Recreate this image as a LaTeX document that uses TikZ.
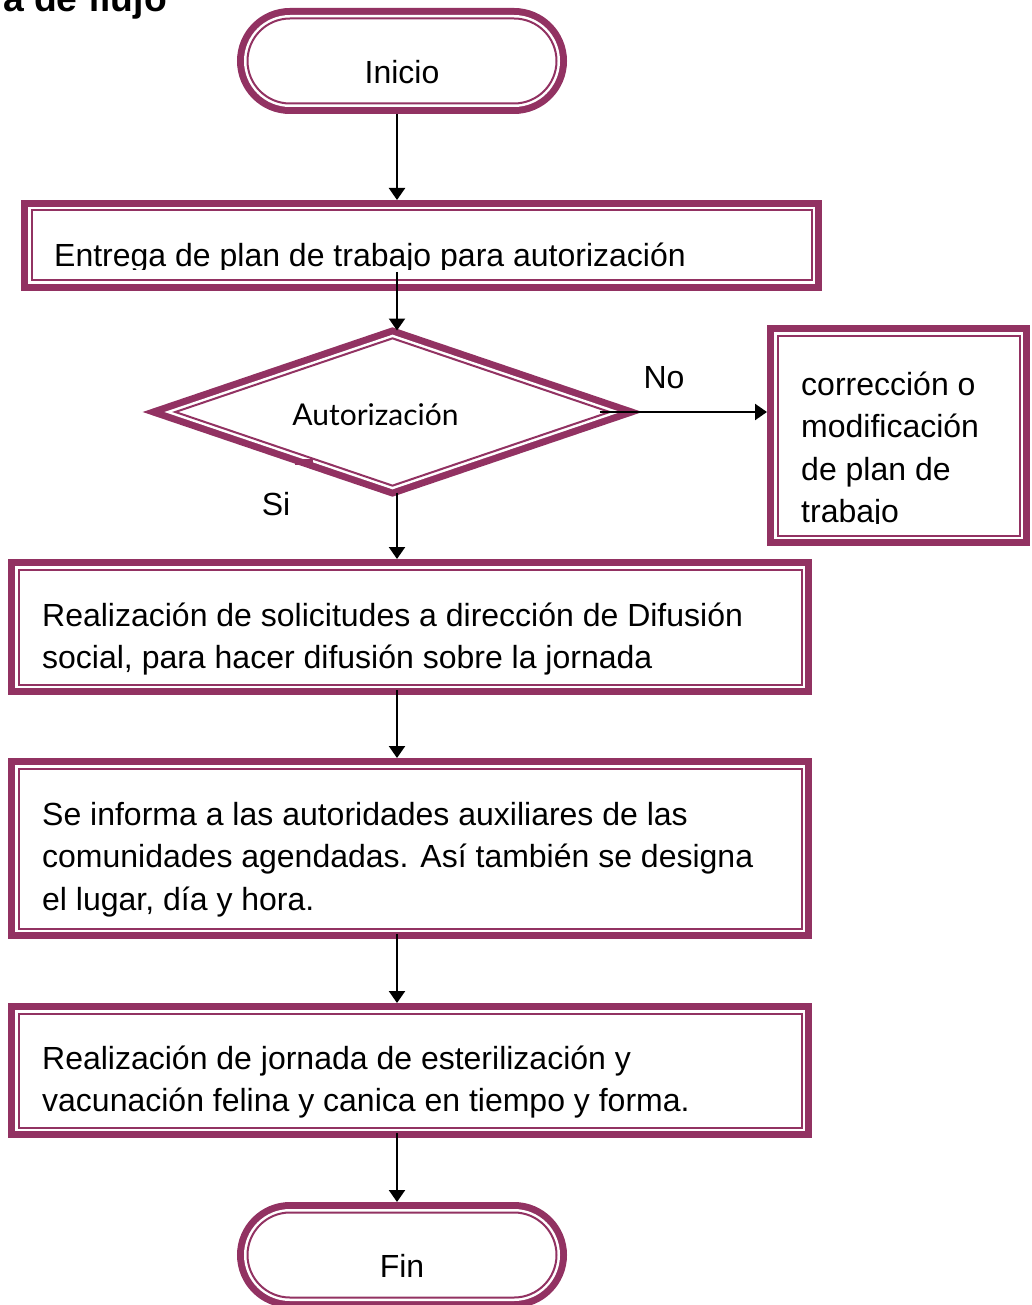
\documentclass[tikz,border=0pt]{standalone}
\usepackage{fontspec}
\setmainfont{Liberation Sans}
\newfontfamily\gillfont{Lato}
\usetikzlibrary{shapes.geometric, arrows.meta}
\definecolor{Morado}{RGB}{146,50,98}

\begin{document}
\begin{tikzpicture}[x=1pt,y=-1pt,
    marco/.style={fill=white, draw=white, line width=7pt, inner sep=0pt, outer sep=10.5pt,
      preaction={draw=Morado, line width=21pt},
      postaction={draw=Morado, line width=2pt}},
    caja/.style={marco, rectangle},
    terminal/.style={marco, rectangle, rounded corners=42.5pt,
      minimum width=309pt, minimum height=85pt},
    decision/.style={marco, diamond, minimum width=443pt, minimum height=156pt},
    texto/.style={inner sep=0pt, font=\fontsize{32}{42.5}\selectfont, align=left},
    flecha/.style={-{Triangle[length=12pt,width=16pt]}, line width=2.2pt}]
  \useasboundingbox (0,0) rectangle (1032,1305);
  \coordinate (eje) at (397,0);
  % titulo cortado arriba
  \node[anchor=base east, inner sep=0pt, font=\bfseries\fontsize{37.3}{40}\selectfont]
    (titulo) at (167,12) {a de flujo};
  % cajas
  \node[terminal] (inicio) at (402,61) {};
  \node[caja, minimum width=780pt, minimum height=70pt] (entrega) at (421.5,245.5) {};
  \node[decision] (autorizacion) at (392.5,412) {};
  \fill[Morado] (295,459) rectangle (313,465);
  \node[caja, minimum width=242pt, minimum height=200pt] (correccion) at (898.5,435.5) {};
  \node[caja, minimum width=783pt, minimum height=115pt] (solicitudes) at (410,627) {};
  \node[caja, minimum width=783pt, minimum height=160pt] (informa) at (410,848.5) {};
  \node[caja, minimum width=783pt, minimum height=114pt] (jornada) at (410,1070.5) {};
  \node[terminal] (fin) at (402,1255) {};
  % textos (base = ultima linea)
  \node[texto, anchor=base] (tinicio) at (402,84) {Inicio};
  \begin{scope}
    \clip (0,0) rectangle (1032,270);
    \node[texto, anchor=base west] (tentrega) at (54,267)
      {Entrega de plan de trabajo para autorización};
  \end{scope}
  \node[anchor=base, inner sep=0pt, font=\gillfont\fontsize{30}{36}\selectfont]
    (tautorizacion) at (375.5,425) {Autorización};
  \node[texto, anchor=base] (tno) at (664,388) {No};
  \node[texto, anchor=base] (tsi) at (276,515) {Si};
  \begin{scope}
    \clip (767,0) rectangle (1032,523.5);
    \node[texto, anchor=base west] (tcorreccion) at (801,522.5)
      {corrección o\\modificación\\de plan de\\trabajo};
  \end{scope}
  \node[texto, anchor=base west] (tsolicitudes) at (42,668.5)
    {Realización de solicitudes a dirección de Difusión\\social, para hacer difusión sobre la jornada};
  \node[texto, anchor=base west] (tinforma) at (42,910)
    {Se informa a las autoridades auxiliares de las\\comunidades agendadas. Así también se designa\\el lugar, día y hora.};
  \node[texto, anchor=base west] (tjornada) at (42,1111.5)
    {Realización de jornada de esterilización y\\vacunación felina y canica en tiempo y forma.};
  \node[texto, anchor=base] (tfin) at (402,1277) {Fin};
  % flechas
  \draw[flecha] (inicio.south -| eje) -- (entrega.north -| eje);
  \draw[flecha, shorten <=-19pt, shorten >=-7pt] (entrega.south -| eje) -- (autorizacion.north -| eje);
  \draw[flecha, shorten <=-25pt] (autorizacion.east) -- (correccion.west |- autorizacion.east);
  \draw[flecha, shorten <=-8pt] (autorizacion.south -| eje) -- (solicitudes.north -| eje);
  \draw[flecha, shorten <=-5pt] (solicitudes.south -| eje) -- (informa.north -| eje);
  \draw[flecha, shorten <=-5pt] (informa.south -| eje) -- (jornada.north -| eje);
  \draw[flecha, shorten <=-5pt] (jornada.south -| eje) -- (fin.north -| eje);
\end{tikzpicture}
\end{document}
